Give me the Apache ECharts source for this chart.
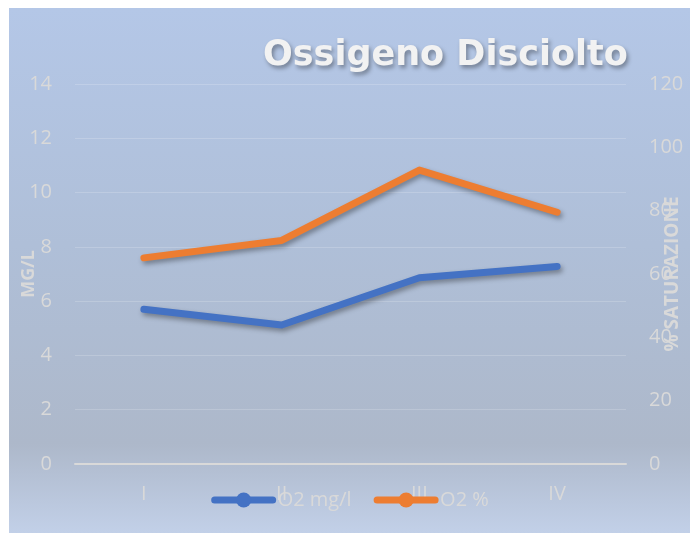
<!DOCTYPE html>
<html>
<head>
<meta charset="utf-8">
<script src="https://cdn.jsdelivr.net/npm/echarts@6/dist/echarts.min.js"></script>
<style>
  body { margin: 0; background: #ffffff; }
  #panel {
    position: absolute; left: 9px; top: 8px; width: 681px; height: 525px;
    background: linear-gradient(to bottom, #b4c7e7 0%, #afbfd8 45%, #adb8ca 83%, #c2d0e8 100%);
  }
  #chart { position: absolute; left: 0; top: 0; width: 700px; height: 533px; }
</style>
</head>
<body>
<div id="panel"></div>
<div id="chart"></div>
<script>
// dati
var categories = ['I', 'II', 'III', 'IV'];
var o2Mg = [5.7, 5.12, 6.86, 7.28];
var o2Pct = [65.1, 70.6, 92.8, 79.5];
var leftTicks = { min: 0, max: 14, interval: 2 };
var rightTicks = { min: 0, max: 120, interval: 20 };

var labelColor = '#d9d9d9';
var fontFam = '"Open Sans", sans-serif';

var lineShadow = {
  shadowColor: 'rgba(0,0,0,0.35)',
  shadowBlur: 5,
  shadowOffsetX: 2,
  shadowOffsetY: 3
};

var option = {
  backgroundColor: 'transparent',
  textStyle: { fontFamily: fontFam },
  title: {
    text: 'Ossigeno Disciolto',
    left: 258,
    top: 33,
    textStyle: {
      fontFamily: '"DejaVu Sans", sans-serif',
      fontSize: 35,
      fontWeight: 'bold',
      color: '#f2f2f2',
      textShadowColor: 'rgba(0,0,0,0.35)',
      textShadowBlur: 4,
      textShadowOffsetX: 2,
      textShadowOffsetY: 3
    }
  },
  legend: {
    left: 'center',
    top: 485,
    itemWidth: 58,
    itemHeight: 19,
    itemGap: 22,
    lineStyle: { width: 7, cap: 'round' },
    textStyle: { fontSize: 20, color: labelColor, fontFamily: fontFam },
    data: ['O2 mg/l', 'O2 %']
  },
  grid: { left: 75, right: 74, top: 84, bottom: 69, containLabel: false, outerBoundsMode: 'none' },
  xAxis: {
    type: 'category',
    data: categories,
    boundaryGap: true,
    axisLine: { lineStyle: { color: labelColor, width: 2 } },
    axisTick: { show: false },
    axisLabel: { color: labelColor, fontSize: 20, margin: 20 }
  },
  yAxis: [
    {
      type: 'value',
      min: leftTicks.min,
      max: leftTicks.max,
      interval: leftTicks.interval,
      name: 'MG/L',
      nameLocation: 'middle',
      nameRotate: 90,
      nameGap: 37,
      nameMoveOverlap: false,
      nameTextStyle: { color: labelColor, fontSize: 18, fontWeight: 'bold' },
      axisLine: { show: false },
      axisTick: { show: false },
      axisLabel: { color: labelColor, fontSize: 20, margin: 23 },
      splitLine: { lineStyle: { color: 'rgba(255,255,255,0.18)', width: 1 } }
    },
    {
      type: 'value',
      min: rightTicks.min,
      max: rightTicks.max,
      interval: rightTicks.interval,
      name: '% SATURAZIONE',
      nameLocation: 'middle',
      nameRotate: 90,
      nameGap: 37,
      nameMoveOverlap: false,
      nameTextStyle: { color: labelColor, fontSize: 19, fontWeight: 'bold' },
      axisLine: { show: false },
      axisTick: { show: false },
      axisLabel: { color: labelColor, fontSize: 20, margin: 23 },
      splitLine: { show: false }
    }
  ],
  series: [
    {
      name: 'O2 mg/l',
      type: 'line',
      yAxisIndex: 0,
      data: o2Mg,
      symbol: 'circle',
      symbolSize: 14,
      showSymbol: false,
      color: '#4472c4',
      lineStyle: Object.assign({ width: 7, color: '#4472c4', cap: 'round', join: 'round' }, lineShadow)
    },
    {
      name: 'O2 %',
      type: 'line',
      yAxisIndex: 1,
      data: o2Pct,
      symbol: 'circle',
      symbolSize: 14,
      showSymbol: false,
      color: '#ed7d31',
      lineStyle: Object.assign({ width: 7, color: '#ed7d31', cap: 'round', join: 'round' }, lineShadow)
    }
  ]
};

var myChart = echarts.init(document.getElementById('chart'));
myChart.setOption(option);
</script>
</body>
</html>
